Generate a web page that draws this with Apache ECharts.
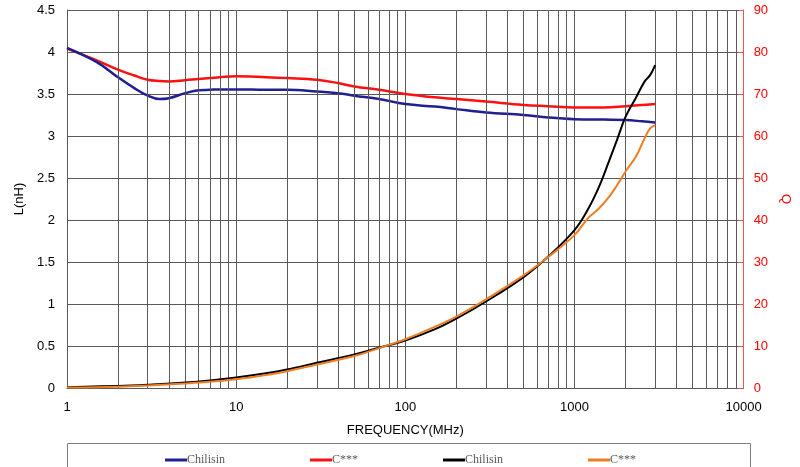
<!DOCTYPE html>
<html><head><meta charset="utf-8">
<script src="https://cdn.jsdelivr.net/npm/echarts@6/dist/echarts.min.js"></script>
<style>html,body{margin:0;padding:0;background:#fff}#c{width:800px;height:467px}</style>
</head><body><div id="c"></div>
<script>
// Inductance (L, nH) vs frequency (MHz)
const freqL = [1, 1.5, 2, 2.5, 3, 3.5, 4, 5, 6, 7, 8, 10, 15, 20, 30, 40, 50, 70, 100, 150, 200, 300, 500, 700, 1000, 1500, 2000, 2500, 3000];
const lChilisin = [4.05, 3.88, 3.70, 3.57, 3.48, 3.44, 3.45, 3.51, 3.545, 3.55, 3.555, 3.555, 3.55, 3.55, 3.53, 3.51, 3.48, 3.44, 3.38, 3.35, 3.32, 3.28, 3.25, 3.22, 3.20, 3.195, 3.19, 3.175, 3.16];
const lOther    = [4.04, 3.90, 3.79, 3.72, 3.67, 3.655, 3.65, 3.665, 3.68, 3.69, 3.70, 3.71, 3.70, 3.69, 3.67, 3.63, 3.59, 3.55, 3.50, 3.46, 3.44, 3.41, 3.37, 3.355, 3.34, 3.34, 3.355, 3.37, 3.38];
// Quality factor (Q) vs frequency (MHz)
const freqQ = [1, 2, 3, 5, 7, 10, 15, 20, 30, 50, 70, 100, 150, 200, 300, 500, 700, 1000, 1200, 1400, 1600, 1800, 2000, 2300, 2600, 2800, 3000];
const qChilisin = [0.2, 0.5, 0.8, 1.3, 1.8, 2.5, 3.5, 4.4, 6.0, 8.0, 9.6, 11.3, 14.0, 16.5, 20.6, 26.4, 31.3, 37.6, 42.5, 48.0, 54.0, 59.5, 64.5, 69.0, 73.0, 74.5, 76.9];
const qOther    = [0.1, 0.3, 0.6, 1.1, 1.5, 2.1, 3.1, 4.0, 5.6, 7.6, 9.5, 11.6, 14.6, 17.0, 21.1, 26.8, 31.2, 36.4, 40.4, 42.8, 45.5, 48.5, 51.5, 55.0, 59.5, 61.8, 62.6];
// Minor log grid positions
const minorX = [2,3,4,5,6,7,8,9,20,30,40,50,60,70,80,90,200,300,400,500,600,700,800,900,2000,3000,4000,5000,6000,7000,8000,9000];
const legendNames = ['Chilisin', 'C***', 'Chilisin', 'C***'];
const seriesIds = ['L1', 'L2', 'Q1', 'Q2'];

const zip = (xs, ys) => xs.map((x, i) => [x, ys[i]]);
const gridColor = '#5a5a5a';
const sans = 'Liberation Sans, Arial, sans-serif';

const chart = echarts.init(document.getElementById('c'), null, {renderer: 'canvas'});
chart.setOption({
  animation: false,
  grid: {left: 67, right: 53, top: 10, bottom: 79, containLabel: false},
  legend: {
    data: seriesIds,
    formatter: n => legendNames[seriesIds.indexOf(n)],
    left: 160, top: 449,
    itemWidth: 22, itemHeight: 3, itemGap: 85,
    icon: 'rect',
    textStyle: {fontFamily: 'Liberation Serif, Times New Roman, serif', fontSize: 12, color: '#595959', padding: [0,0,0,-5]},
    selectedMode: false
  },
  graphic: [{
    type: 'rect', shape: {x: 67.5, y: 443.5, width: 683, height: 40},
    style: {fill: 'none', stroke: '#7f7f7f', lineWidth: 1}, silent: true
  }],
  xAxis: {
    type: 'log', logBase: 10, min: 1, max: 10000,
    name: 'FREQUENCY(MHz)', nameLocation: 'middle', nameGap: 36,
    nameTextStyle: {fontFamily: sans, fontSize: 13, color: '#000'},
    axisLine: {show: true, lineStyle: {color: gridColor}},
    axisTick: {show: false},
    axisLabel: {fontFamily: sans, fontSize: 13, color: '#000', margin: 13, formatter: v => String(v)},
    splitLine: {show: true, lineStyle: {color: gridColor, width: 1}}
  },
  yAxis: [{
    type: 'value', min: 0, max: 4.5, interval: 0.5,
    name: 'L(nH)', nameLocation: 'middle', nameGap: 40,
    nameTextStyle: {fontFamily: sans, fontSize: 13, color: '#000'},
    axisLine: {show: true, lineStyle: {color: gridColor}},
    axisTick: {show: true, inside: true, length: 4, lineStyle: {color: gridColor}},
    axisLabel: {fontFamily: sans, fontSize: 13, color: '#000', margin: 12},
    splitLine: {show: true, lineStyle: {color: gridColor, width: 1}}
  }, {
    type: 'value', min: 0, max: 90, interval: 10, position: 'right',
    name: 'Q', nameLocation: 'middle', nameGap: 27, nameRotate: -90,
    nameTextStyle: {fontFamily: sans, fontSize: 13, color: '#ff0000'},
    axisLine: {show: true, lineStyle: {color: '#e8585a'}},
    axisTick: {show: true, inside: true, length: 5, lineStyle: {color: '#e8585a'}},
    axisLabel: {fontFamily: sans, fontSize: 13, color: '#ff0000', margin: 10},
    splitLine: {show: false}
  }],
  series: [
    {
      id: 'grid', name: 'grid', type: 'line', data: [], yAxisIndex: 0, silent: true,
      markLine: {
        silent: true, symbol: 'none', animation: false,
        label: {show: false},
        lineStyle: {color: gridColor, width: 1, type: 'solid'},
        data: minorX.map(v => ({xAxis: v}))
      }
    },
    {id: 'L1', name: 'L1', type: 'line', yAxisIndex: 0, smooth: 0.4, showSymbol: false,
     data: zip(freqL, lChilisin), lineStyle: {color: '#1f1f8f', width: 2.5}, itemStyle: {color: '#1f1f8f'}, z: 4},
    {id: 'L2', name: 'L2', type: 'line', yAxisIndex: 0, smooth: 0.4, showSymbol: false,
     data: zip(freqL, lOther), lineStyle: {color: '#ff1010', width: 2.5}, itemStyle: {color: '#ff1010'}, z: 3},
    {id: 'Q1', name: 'Q1', type: 'line', yAxisIndex: 1, smooth: 0.4, showSymbol: false,
     data: zip(freqQ, qChilisin), lineStyle: {color: '#000000', width: 2}, itemStyle: {color: '#000000'}, z: 5},
    {id: 'Q2', name: 'Q2', type: 'line', yAxisIndex: 1, smooth: 0.4, showSymbol: false,
     data: zip(freqQ, qOther), lineStyle: {color: '#ee7d22', width: 2}, itemStyle: {color: '#ee7d22'}, z: 6}
  ]
});
</script></body></html>
